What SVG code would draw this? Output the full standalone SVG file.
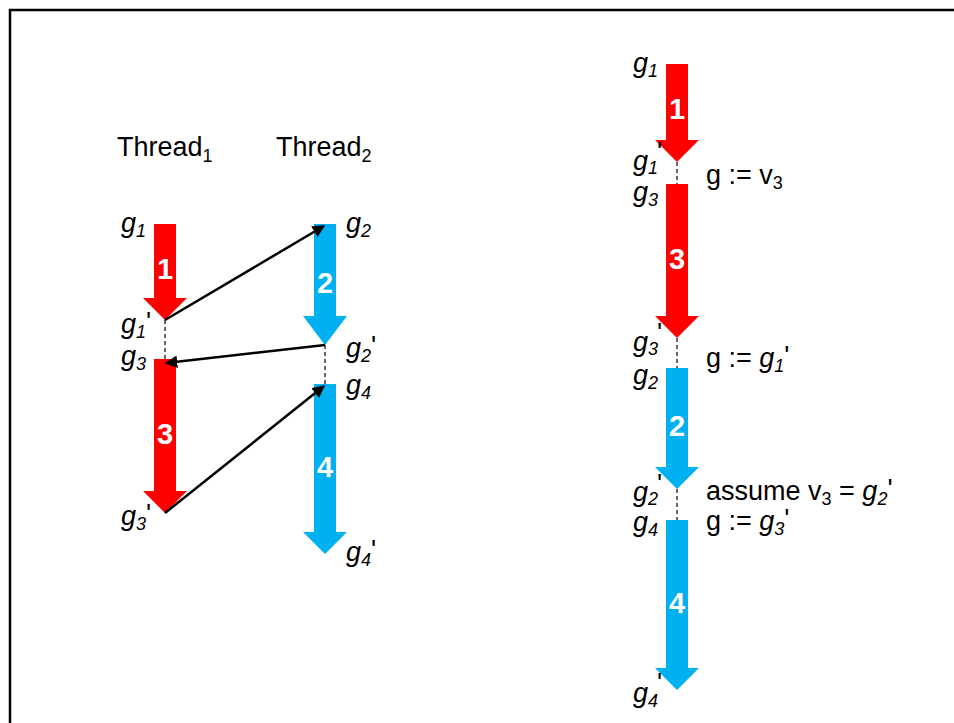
<svg xmlns="http://www.w3.org/2000/svg" width="954" height="723" viewBox="0 0 954 723">
  <style>
    .lbl { font-family: "Liberation Sans", Arial, sans-serif; font-size: 27px; fill: #000; }
    .var { font-style: italic; }
    .sub { font-size: 18px; }
    .num { font-family: "Liberation Sans", Arial, sans-serif; font-size: 29px; font-weight: bold; fill: #fff; text-anchor: middle; }
    .red { fill: #ff0000; }
    .blue { fill: #00b0f0; }
    .dash { stroke: #000; stroke-width: 1.2; stroke-dasharray: 4 3; fill: none; }
    .conn { stroke: #000; stroke-width: 2.5; fill: none; marker-end: url(#head); }
  </style>
  <defs>
    <marker id="head" viewBox="0 0 10 10" refX="9" refY="5" markerWidth="5" markerHeight="5" orient="auto" markerUnits="strokeWidth">
      <path d="M0,0 L10,5 L0,10 z" fill="#000"/>
    </marker>
  </defs>

  <rect width="954" height="723" fill="#fff"/>
  <rect x="10" y="10" width="960" height="730" fill="none" stroke="#000" stroke-width="2.5"/>

  <!-- thread headings -->
  <g id="thread1-title">
    <text class="lbl" x="117" y="156">Thread<tspan class="sub" dy="6">1</tspan></text>
  </g>
  <g id="thread2-title">
    <text class="lbl" x="276" y="156">Thread<tspan class="sub" dy="6">2</tspan></text>
  </g>

  <!-- left: thread 1 blocks -->
  <g id="L1">
    <path class="red" d="M154,224 H176 V298 H187 L165,320 L143,298 H154 Z"/>
    <text class="num" x="165" y="279">1</text>
  </g>
  <g id="L3">
    <path class="red" d="M154,359 H176 V491 H187 L165,513 L143,491 H154 Z"/>
    <text class="num" x="165" y="444">3</text>
  </g>
  <!-- left: thread 2 blocks -->
  <g id="L2">
    <path class="blue" d="M314,224 H336 V316 H347 L325,345 L303,316 H314 Z"/>
    <text class="num" x="325" y="293">2</text>
  </g>
  <g id="L4">
    <path class="blue" d="M314,384 H336 V532 H347 L325,554 L303,532 H314 Z"/>
    <text class="num" x="325" y="477">4</text>
  </g>

  <!-- left labels -->
  <g id="L-labels">
    <text class="lbl var" x="121" y="232">g<tspan class="sub" dy="5">1</tspan></text>
    <text class="lbl var" x="121" y="333">g<tspan class="sub" dy="5">1</tspan><tspan font-style="normal" dy="-7">'</tspan></text>
    <text class="lbl var" x="121" y="365">g<tspan class="sub" dy="5">3</tspan></text>
    <text class="lbl var" x="121" y="525">g<tspan class="sub" dy="5">3</tspan><tspan font-style="normal" dy="-7">'</tspan></text>
    <text class="lbl var" x="346" y="232">g<tspan class="sub" dy="5">2</tspan></text>
    <text class="lbl var" x="346" y="357">g<tspan class="sub" dy="5">2</tspan><tspan font-style="normal" dy="-7">'</tspan></text>
    <text class="lbl var" x="346" y="394">g<tspan class="sub" dy="5">4</tspan></text>
    <text class="lbl var" x="346" y="561">g<tspan class="sub" dy="5">4</tspan><tspan font-style="normal" dy="-7">'</tspan></text>
  </g>

  <!-- right: sequential trace -->
  <g id="R1">
    <path class="red" d="M666,64 H688 V140 H699 L677,162 L655,140 H666 Z"/>
    <text class="num" x="677" y="119">1</text>
  </g>
  <g id="R3">
    <path class="red" d="M666,184 H688 V316 H699 L677,338 L655,316 H666 Z"/>
    <text class="num" x="677" y="269">3</text>
  </g>
  <g id="R2">
    <path class="blue" d="M666,368 H688 V467 H699 L677,489 L655,467 H666 Z"/>
    <text class="num" x="677" y="436">2</text>
  </g>
  <g id="R4">
    <path class="blue" d="M666,520 H688 V668 H699 L677,690 L655,668 H666 Z"/>
    <text class="num" x="677" y="613">4</text>
  </g>

  <g id="R-labels">
    <text class="lbl var" x="633" y="72">g<tspan class="sub" dy="5">1</tspan></text>
    <text class="lbl var" x="633" y="170">g<tspan class="sub" dy="4">1</tspan></text>
    <text class="lbl" x="657" y="161">'</text>
    <text class="lbl var" x="633" y="201">g<tspan class="sub" dy="5">3</tspan></text>
    <text class="lbl var" x="633" y="351">g<tspan class="sub" dy="4">3</tspan></text>
    <text class="lbl" x="657" y="342">'</text>
    <text class="lbl var" x="633" y="384">g<tspan class="sub" dy="5">2</tspan></text>
    <text class="lbl var" x="633" y="501">g<tspan class="sub" dy="4">2</tspan></text>
    <text class="lbl" x="657" y="493">'</text>
    <text class="lbl var" x="633" y="531">g<tspan class="sub" dy="5">4</tspan></text>
    <text class="lbl var" x="633" y="702">g<tspan class="sub" dy="5">4</tspan></text>
    <text class="lbl" x="657" y="692">'</text>
  </g>

  <g id="R-notes">
    <text class="lbl" x="706" y="184">g := v<tspan class="sub" dy="5">3</tspan></text>
    <text class="lbl" x="706" y="367">g := <tspan class="var">g</tspan><tspan class="sub var" dy="5">1</tspan><tspan dy="-7">'</tspan></text>
    <text class="lbl" x="706" y="500">assume v<tspan class="sub" dy="5">3</tspan><tspan dy="-5"> = </tspan><tspan class="var">g</tspan><tspan class="sub var" dy="5">2</tspan><tspan dy="-7">'</tspan></text>
    <text class="lbl" x="706" y="530">g := <tspan class="var">g</tspan><tspan class="sub var" dy="5">3</tspan><tspan dy="-7">'</tspan></text>
  </g>

  <!-- connectors -->
  <g id="connectors">
    <line class="dash" x1="165" y1="320" x2="165" y2="359"/>
    <line class="dash" x1="325" y1="345" x2="325" y2="384"/>
    <line class="dash" x1="677" y1="162" x2="677" y2="184"/>
    <line class="dash" x1="677" y1="338" x2="677" y2="368"/>
    <line class="dash" x1="677" y1="489" x2="677" y2="520"/>
    <line class="conn" x1="165" y1="320" x2="324" y2="226"/>
    <line class="conn" x1="325" y1="345" x2="166" y2="363"/>
    <line class="conn" x1="165" y1="513" x2="324" y2="386"/>
  </g>
</svg>
